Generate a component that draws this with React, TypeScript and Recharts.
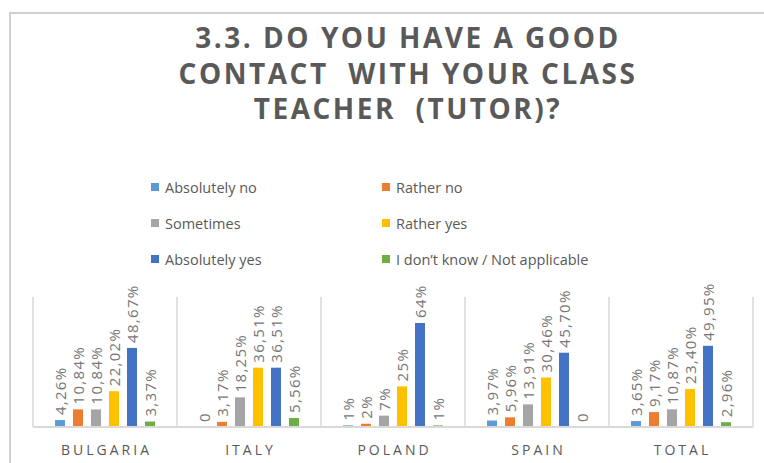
import { Bar, BarChart, LabelList, Legend, XAxis, YAxis } from "recharts";

const CATEGORIES = ["BULGARIA", "ITALY", "POLAND", "SPAIN", "TOTAL"];

const SERIES = [
  "Absolutely no",
  "Rather no",
  "Sometimes",
  "Rather yes",
  "Absolutely yes",
  "I don’t know / Not applicable",
];

// one array per answer, in category order
const absolutelyNo = [4.26, 0, 1, 3.97, 3.65];
const ratherNo = [10.84, 3.17, 2, 5.96, 9.17];
const sometimes = [10.84, 18.25, 7, 13.91, 10.87];
const ratherYes = [22.02, 36.51, 25, 30.46, 23.4];
const absolutelyYes = [48.67, 36.51, 64, 45.7, 49.95];
const dontKnow = [3.37, 5.56, 1, 0, 2.96];

const TITLE_LINES = ["3.3. DO YOU HAVE A GOOD", "CONTACT  WITH YOUR CLASS", "TEACHER  (TUTOR)?"];

const COLORS = ["#5b9bd5", "#ed7d31", "#a5a5a5", "#ffc000", "#4472c4", "#70ad47"];

const VALUES = [absolutelyNo, ratherNo, sometimes, ratherYes, absolutelyYes, dontKnow];

const data = CATEGORIES.map((name, i) => {
  const row: Record<string, string | number> = { name };
  SERIES.forEach((s, j) => {
    row[`s${j}`] = VALUES[j][i];
  });
  return row;
});

const TEXT = "#595959";
const GRID = "#d9d9d9";
const PLOT_H = 130;
const HALF_BAND = 72;

function fmt(v: number): string {
  if (v === 0) return "0";
  if (Number.isInteger(v)) return `${v}%`;
  return `${v.toFixed(2).replace(".", ",")}%`;
}

function BarLabel(props: any) {
  const { x, y, width, value } = props;
  const cx = Number(x) + Number(width) / 2;
  const ty = Number(y) - 5;
  return (
    <text
      x={cx}
      y={ty}
      transform={`rotate(-90, ${cx}, ${ty})`}
      textAnchor="start"
      dominantBaseline="central"
      fontFamily="Open Sans"
      fontSize={15}
      letterSpacing={1.3}
      fill="#767676"
    >
      {fmt(Number(value))}
    </text>
  );
}

function CategoryTick(props: any) {
  const { x, y, payload, index } = props;
  const last = index === CATEGORIES.length - 1;
  return (
    <g>
      <line x1={x - HALF_BAND} x2={x - HALF_BAND} y1={y - PLOT_H} y2={y} stroke={GRID} strokeWidth={1.5} />
      {last && <line x1={x + HALF_BAND} x2={x + HALF_BAND} y1={y - PLOT_H} y2={y} stroke={GRID} strokeWidth={1.5} />}
      <text
        x={x + 1.5}
        y={y + 28}
        textAnchor="middle"
        fontFamily="Open Sans"
        fontSize={14}
        letterSpacing={3}
        fill={TEXT}
      >
        {payload.value}
      </text>
    </g>
  );
}

function LegendGrid(props: any) {
  const items = [...(props.payload || [])].sort(
    (a: any, b: any) => SERIES.indexOf(a.value) - SERIES.indexOf(b.value),
  );
  return (
    <div style={{ display: "grid", gridTemplateColumns: "231px 260px", rowGap: 14 }}>
      {items.map((it: any) => (
        <div key={it.value} style={{ display: "flex", alignItems: "center", height: 22 }}>
          <span style={{ width: 8, height: 8, background: it.color, marginRight: 6, display: "inline-block" }} />
          <span style={{ fontFamily: "Open Sans", fontSize: 14.5, color: TEXT, whiteSpace: "nowrap" }}>{it.value}</span>
        </div>
      ))}
    </div>
  );
}

export default function App() {
  return (
    <div style={{ position: "absolute", left: 0, top: 0, width: 764, height: 463, overflow: "hidden", background: "#fff" }}>
      <div
        style={{
          position: "absolute",
          left: 9,
          top: 12,
          width: 800,
          height: 500,
          borderTop: "2px solid #d0d0d0",
          borderLeft: "2px solid #d0d0d0",
        }}
      />
      <svg width={764} height={140} style={{ position: "absolute", left: 0, top: 0 }}>
        {TITLE_LINES.map((line, i) => (
          <text
            key={line}
            x={408}
            y={48 + i * 35.5}
            textAnchor="middle"
            fontFamily="Open Sans"
            fontWeight={700}
            fontSize={28}
            letterSpacing={2.5}
            fill={TEXT}
            style={{ whiteSpace: "pre" }}
          >
            {line}
          </text>
        ))}
      </svg>
      <BarChart
        width={764}
        height={463}
        data={data}
        margin={{ top: 297, right: 11, left: 33, bottom: 0 }}
        barSize={10}
        barGap={8}
      >
        <XAxis
          dataKey="name"
          height={36}
          axisLine={{ stroke: GRID, strokeWidth: 2 }}
          tickLine={false}
          tickSize={0}
          tickMargin={0}
          interval={0}
          tick={<CategoryTick />}
        />
        <YAxis hide domain={[0, 80]} />
        <Legend
          layout="horizontal"
          verticalAlign="middle"
          align="center"
          wrapperStyle={{ top: 176, left: 151, width: 520 }}
          content={<LegendGrid />}
        />
        {SERIES.map((s, j) => (
          <Bar
            key={s}
            dataKey={`s${j}`}
            name={s}
            fill={COLORS[j]}
            minPointSize={0.01}
            isAnimationActive={false}
          >
            <LabelList dataKey={`s${j}`} content={<BarLabel />} />
          </Bar>
        ))}
      </BarChart>
    </div>
  );
}
